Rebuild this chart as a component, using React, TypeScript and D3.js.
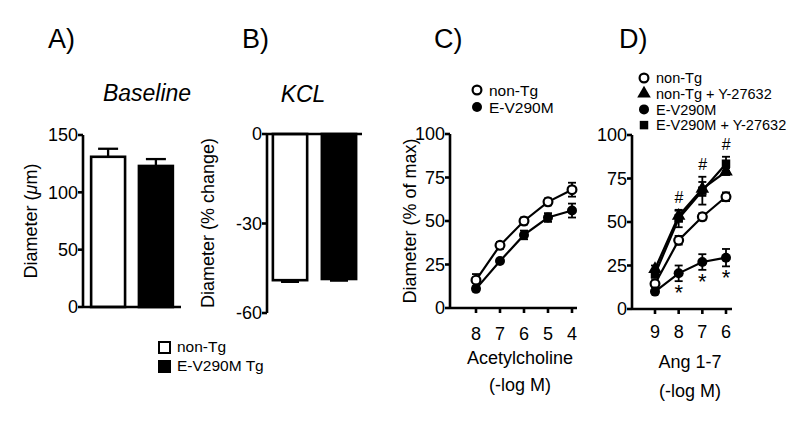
import React from "react";
import * as d3 from "d3";

// ---------- data ----------
const groupsAB = ["non-Tg", "E-V290M Tg"];
const baselineMean = [131, 123];
const baselineSem = [7, 6];
const kclMean = [-49, -48.6];
const kclSem = [0.6, 0.6];

const achDoses = [8, 7, 6, 5, 4];
const achNonTg = [16, 36, 50, 61, 68];
const achNonTgSem = [3.5, 2, 2, 2, 4];
const achEV = [11, 27, 42, 52, 56];
const achEVSem = [1, 1, 2.5, 2.5, 4];

const angDoses = [9, 8, 7, 6];
const angNonTg = [14.5, 39.5, 53, 64.5];
const angNonTgSem = [2, 2.5, 2, 2.5];
const angNonTgY = [23, 53.5, 69, 79];
const angNonTgYSem = [2, 3, 4, 2];
const angEV = [10, 20.5, 27, 29.5];
const angEVSem = [1, 4.5, 4.5, 5];
const angEVY = [20, 52, 68, 83.5];
const angEVYSem = [2, 5, 8, 4];
const hashDoses = [8, 7, 6];
const starDoses = [8, 7, 6];

const yTicksA = [0, 50, 100, 150];
const yTicksB = [0, -30, -60];
const yTicksCD = [0, 25, 50, 75, 100];

const FONT = "'Liberation Sans', Arial, Helvetica, sans-serif";
const AX = 2.6;
const TICKFS = 18;

type Series = { vals: number[]; sem: number[]; marker: string };

function Marker({ kind, x, y }: { kind: string; x: number; y: number }) {
  if (kind === "open") return <circle cx={x} cy={y} r={4.4} fill="#fff" stroke="#000" strokeWidth={2.2} />;
  if (kind === "filled") return <circle cx={x} cy={y} r={5} fill="#000" />;
  if (kind === "triangle")
    return <path d={d3.symbol().type(d3.symbolTriangle).size(80)() as string} transform={`translate(${x},${y})`} fill="#000" />;
  return <path d={d3.symbol().type(d3.symbolSquare).size(72)() as string} transform={`translate(${x},${y})`} fill="#000" />;
}

function YAxis({ scale, ticks, x, top, bottom, labelX }: any) {
  return (
    <g>
      <line x1={x} x2={x} y1={top} y2={bottom} stroke="#000" strokeWidth={AX} />
      {ticks.map((t: number) => (
        <g key={t}>
          <line x1={x - 5} x2={x} y1={scale(t)} y2={scale(t)} stroke="#000" strokeWidth={AX} />
          <text x={labelX} y={scale(t)} dy="0.36em" textAnchor="end" fontSize={TICKFS} fontFamily={FONT}>
            {t}
          </text>
        </g>
      ))}
    </g>
  );
}

function LinePanel({ xs, doses, y, series, x0, x1, yBottom, yTop, labelY }: any) {
  const line = d3
    .line<number>()
    .x((_, i) => xs(doses[i]))
    .y((d) => y(d));
  return (
    <g>
      <YAxis scale={y} ticks={yTicksCD} x={x0} top={yTop} bottom={yBottom} labelX={x0 - 5} />
      <line x1={x0} x2={x1} y1={yBottom} y2={yBottom} stroke="#000" strokeWidth={AX} />
      {doses.map((d: number) => (
        <g key={d}>
          <line x1={xs(d)} x2={xs(d)} y1={yBottom} y2={yBottom + 5} stroke="#000" strokeWidth={AX} />
          <text x={xs(d)} y={labelY} textAnchor="middle" fontSize={TICKFS} fontFamily={FONT}>
            {d}
          </text>
        </g>
      ))}
      {series.map((s: Series, si: number) => (
        <g key={si}>
          <path d={line(s.vals) as string} fill="none" stroke="#000" strokeWidth={2.2} />
          {s.vals.map((v, i) => {
            const cx = xs(doses[i]);
            const hi = y(v + s.sem[i]);
            const lo = y(v - s.sem[i]);
            return (
              <g key={i}>
                <line x1={cx} x2={cx} y1={hi} y2={lo} stroke="#000" strokeWidth={1.8} />
                <line x1={cx - 4} x2={cx + 4} y1={hi} y2={hi} stroke="#000" strokeWidth={1.8} />
                <line x1={cx - 4} x2={cx + 4} y1={lo} y2={lo} stroke="#000" strokeWidth={1.8} />
              </g>
            );
          })}
        </g>
      ))}
      {series.map((s: Series, si: number) => (
        <g key={"m" + si}>
          {s.vals.map((v, i) => (
            <Marker key={i} kind={s.marker} x={xs(doses[i])} y={y(v)} />
          ))}
        </g>
      ))}
    </g>
  );
}

export default function App() {
  // Panel A
  const yA = d3.scaleLinear().domain([0, 150]).range([307, 135]);
  const xA = d3.scaleBand().domain(groupsAB).range([83, 181]).paddingInner(0.29).paddingOuter(0.17);
  // Panel B
  const yB = d3.scaleLinear().domain([-60, 0]).range([313, 134]);
  const xB = d3.scaleBand().domain(groupsAB).range([267, 362]).paddingInner(0.3).paddingOuter(0.12);
  // Panel C
  const yC = d3.scaleLinear().domain([0, 100]).range([308, 134]);
  const xC = d3.scaleLinear().domain([8, 4]).range([476, 572]);
  // Panel D
  const yD = d3.scaleLinear().domain([0, 100]).range([309, 135]);
  const xD = d3.scaleLinear().domain([9, 6]).range([655, 726]);

  const fills = ["#fff", "#000"];

  const seriesC: Series[] = [
    { vals: achNonTg, sem: achNonTgSem, marker: "open" },
    { vals: achEV, sem: achEVSem, marker: "filled" },
  ];
  const seriesD: Series[] = [
    { vals: angNonTg, sem: angNonTgSem, marker: "open" },
    { vals: angEV, sem: angEVSem, marker: "filled" },
    { vals: angNonTgY, sem: angNonTgYSem, marker: "triangle" },
    { vals: angEVY, sem: angEVYSem, marker: "square" },
  ];

  const legendD = [
    { label: "non-Tg", marker: "open" },
    { label: "non-Tg + Y-27632", marker: "triangle" },
    { label: "E-V290M", marker: "filled" },
    { label: "E-V290M + Y-27632", marker: "square" },
  ];

  return (
    <svg width={800} height={440} style={{ position: "absolute", left: 0, top: 0, background: "#fff" }}>
      <rect width={800} height={440} fill="#fff" />
      {/* Panel letters */}
      {[
        ["A)", 48],
        ["B)", 242],
        ["C)", 434],
        ["D)", 619],
      ].map(([t, x]) => (
        <text key={t as string} x={x as number} y={48} fontSize={27} fontFamily={FONT}>
          {t}
        </text>
      ))}

      {/* Panel A */}
      <text x={147} y={101} textAnchor="middle" fontSize={23} fontStyle="italic" fontFamily={FONT}>
        Baseline
      </text>
      <text transform="translate(37,221) rotate(-90)" textAnchor="middle" fontSize={18} fontFamily={FONT}>
        Diameter (<tspan fontStyle="italic">μ</tspan>m)
      </text>
      {groupsAB.map((g, i) => {
        const bx = xA(g)!;
        const bw = xA.bandwidth();
        const cx = bx + bw / 2;
        const top = yA(baselineMean[i]);
        const err = yA(baselineMean[i] + baselineSem[i]);
        return (
          <g key={g}>
            <line x1={cx} x2={cx} y1={top} y2={err} stroke="#000" strokeWidth={2.3} />
            <line x1={cx - 10} x2={cx + 10} y1={err} y2={err} stroke="#000" strokeWidth={2.3} />
            <rect x={bx} y={top} width={bw} height={yA(0) - top} fill={fills[i]} stroke="#000" strokeWidth={AX} />
          </g>
        );
      })}
      <YAxis scale={yA} ticks={yTicksA} x={83} top={135} bottom={307} labelX={78} />
      <line x1={83} x2={181} y1={307} y2={307} stroke="#000" strokeWidth={AX} />

      {/* Panel B */}
      <text x={303} y={102} textAnchor="middle" fontSize={23} fontStyle="italic" fontFamily={FONT}>
        KCL
      </text>
      <text transform="translate(214,223) rotate(-90)" textAnchor="middle" fontSize={18} fontFamily={FONT}>
        Diameter (% change)
      </text>
      {groupsAB.map((g, i) => {
        const bx = xB(g)!;
        const bw = xB.bandwidth();
        const cx = bx + bw / 2;
        const bot = yB(kclMean[i]);
        const err = yB(kclMean[i] - kclSem[i]);
        return (
          <g key={g}>
            <line x1={cx} x2={cx} y1={bot} y2={err} stroke="#000" strokeWidth={2} />
            <line x1={cx - 9} x2={cx + 9} y1={err} y2={err} stroke="#000" strokeWidth={2} />
            <rect x={bx} y={yB(0)} width={bw} height={bot - yB(0)} fill={fills[i]} stroke="#000" strokeWidth={AX} />
          </g>
        );
      })}
      <YAxis scale={yB} ticks={yTicksB} x={267} top={134} bottom={313} labelX={262} />
      <line x1={267} x2={362} y1={134} y2={134} stroke="#000" strokeWidth={AX} />

      {/* Legend A/B */}
      {groupsAB.map((g, i) => (
        <g key={g}>
          <rect x={159} y={342 + i * 19} width={11} height={11} fill={fills[i]} stroke="#000" strokeWidth={2} />
          <text x={177} y={352 + i * 19} fontSize={15.5} fontFamily={FONT}>
            {g}
          </text>
        </g>
      ))}

      {/* Panel C */}
      <text transform="translate(416,221) rotate(-90)" textAnchor="middle" fontSize={18} fontFamily={FONT}>
        Diameter (% of max)
      </text>
      <LinePanel xs={xC} doses={achDoses} y={yC} series={seriesC} x0={450} x1={577} yBottom={308} yTop={134} labelY={340} />
      <text x={520} y={364} textAnchor="middle" fontSize={18} fontFamily={FONT}>
        Acetylcholine
      </text>
      <text x={520} y={391} textAnchor="middle" fontSize={18} fontFamily={FONT}>
        (-log M)
      </text>
      {seriesC.map((s, i) => (
        <g key={i}>
          <Marker kind={s.marker} x={477} y={90 + i * 17} />
          <text x={489} y={90 + i * 17} dy="0.36em" fontSize={15.5} fontFamily={FONT}>
            {["non-Tg", "E-V290M"][i]}
          </text>
        </g>
      ))}

      {/* Panel D */}
      <LinePanel xs={xD} doses={angDoses} y={yD} series={seriesD} x0={632} x1={732} yBottom={309} yTop={135} labelY={338} />
      {hashDoses.map((d) => {
        const i = angDoses.indexOf(d);
        const top = Math.max(angNonTgY[i] + angNonTgYSem[i], angEVY[i] + angEVYSem[i]);
        return (
          <text key={d} x={xD(d)} y={yD(top) - 7} textAnchor="middle" fontSize={16} fontStyle="italic" fontFamily={FONT}>
            #
          </text>
        );
      })}
      {starDoses.map((d) => {
        const i = angDoses.indexOf(d);
        return (
          <text key={d} x={xD(d)} y={yD(angEV[i] - angEVSem[i]) + 19} textAnchor="middle" fontSize={22} fontFamily={FONT}>
            *
          </text>
        );
      })}
      <text x={690} y={368} textAnchor="middle" fontSize={18} fontFamily={FONT}>
        Ang 1-7
      </text>
      <text x={690} y={397} textAnchor="middle" fontSize={18} fontFamily={FONT}>
        (-log M)
      </text>
      {legendD.map((l, i) => (
        <g key={l.label}>
          <Marker kind={l.marker} x={644} y={78 + i * 15.7} />
          <text x={656} y={78 + i * 15.7} dy="0.36em" fontSize={14.5} fontFamily={FONT}>
            {l.label}
          </text>
        </g>
      ))}
    </svg>
  );
}
